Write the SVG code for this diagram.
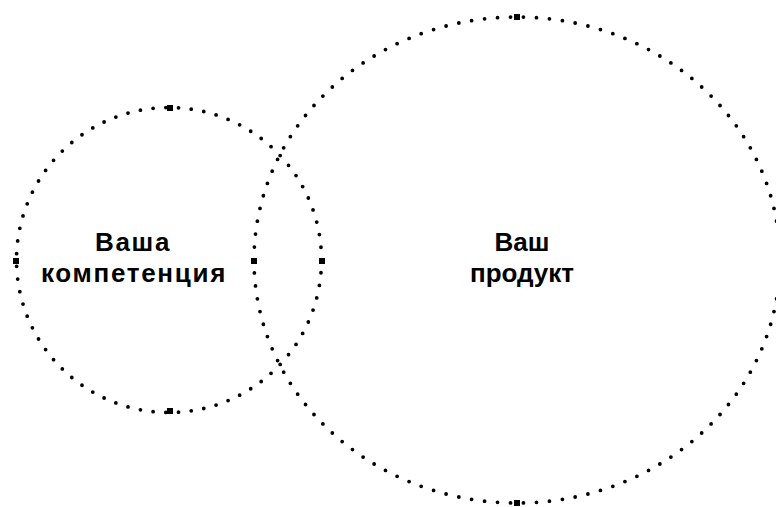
<svg xmlns="http://www.w3.org/2000/svg" width="776" height="507" viewBox="0 0 776 507">
<style>
.ring{fill:none;stroke:#000;stroke-width:3.8;stroke-linecap:round;stroke-dasharray:0 1}
.h{fill:#000}
.t{font-family:"Liberation Sans",Arial,sans-serif;font-weight:bold;font-size:26px;fill:#000;text-anchor:middle}
.w{letter-spacing:1.7px}
</style>
<rect width="776" height="507" fill="#fff"/>
<g id="competence">
<circle class="ring" cx="169" cy="260" r="152.5" pathLength="75"/>
<rect class="h" x="167" y="105" width="6" height="6"/>
<rect class="h" x="167" y="408" width="6" height="6"/>
<rect class="h" x="13" y="258" width="6" height="6"/>
<rect class="h" x="319" y="258" width="6" height="6"/>
<text class="t w" x="133" y="251">Ваша</text>
<text class="t w" x="134" y="282">компетенция</text>
</g>
<g id="product">
<ellipse class="ring" cx="517" cy="260" rx="263" ry="243" pathLength="122"/>
<rect class="h" x="514" y="14" width="6" height="6"/>
<rect class="h" x="514" y="500" width="6" height="6"/>
<rect class="h" x="251" y="258" width="6" height="6"/>
<text class="t" x="522" y="251">Ваш</text>
<text class="t" x="522" y="282">продукт</text>
</g>
<g id="connectors"/>
</svg>
